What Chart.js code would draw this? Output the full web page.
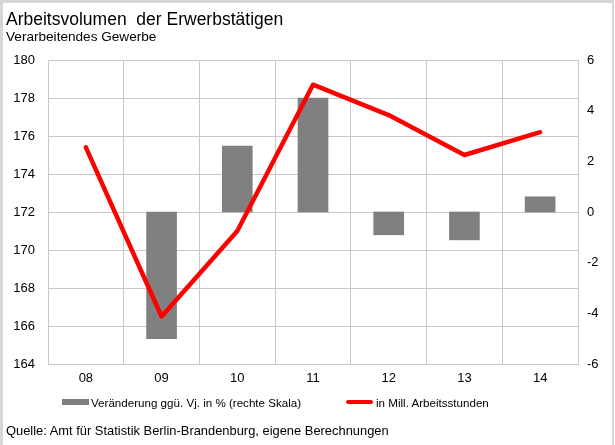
<!DOCTYPE html>
<html lang="de">
<head>
<meta charset="utf-8">
<title>Arbeitsvolumen der Erwerbstätigen</title>
<script src="https://cdn.jsdelivr.net/npm/chart.js@4/dist/chart.umd.min.js"></script>
<style>
  html, body { margin: 0; padding: 0; background: #fff; }
  #wrap {
    position: relative; width: 615px; height: 445px; overflow: hidden;
    font-family: "Liberation Sans", Arial, sans-serif; color: #000;
  }
  #frame {
    position: absolute; left: 0; top: 0; width: 614px; height: 445px;
    border-top: 3px solid #d6d6d6; border-left: 3px solid #d6d6d6; border-right: 2px solid #d6d6d6;
    box-sizing: border-box; pointer-events: none;
  }
  canvas#chart { position: absolute; left: 0; top: 0; }
  .txt { position: absolute; white-space: pre; line-height: 1; }
  #title { left: 6px; top: 11px; font-size: 17.5px; }
  #subtitle { left: 6px; top: 30px; font-size: 13.6px; }
  #source { left: 6px; top: 425px; font-size: 12.9px; }
  .legend { top: 397px; font-size: 11.6px; }
  .swatch { position: absolute; }
</style>
</head>
<body>
<div id="wrap">
  <canvas id="chart" width="615" height="445"></canvas>
  <div class="txt" id="title">Arbeitsvolumen  der Erwerbstätigen</div>
  <div class="txt" id="subtitle">Verarbeitendes Gewerbe</div>
  <div class="swatch" style="left:62px;top:399px;width:27px;height:6px;background:#808080"></div>
  <div class="txt legend" style="left:91px">Veränderung ggü. Vj. in % (rechte Skala)</div>
  <div class="swatch" style="left:346px;top:400px;width:27px;height:4px;background:#ff0000;border-radius:2px"></div>
  <div class="txt legend" style="left:376px">in Mill. Arbeitsstunden</div>
  <div class="txt" id="source">Quelle: Amt für Statistik Berlin-Brandenburg, eigene Berechnungen</div>
  <div id="frame"></div>
</div>
<script>
// Jahre (2008–2014)
const years = ['08', '09', '10', '11', '12', '13', '14'];
// Arbeitsvolumen in Mill. Arbeitsstunden (linke Skala)
const hours = [175.4, 166.5, 171.0, 178.7, 177.1, 175.0, 176.2];
// Veränderung gegenüber Vorjahr in % (rechte Skala)
const changePct = [null, -5.0, 2.6, 4.5, -0.9, -1.1, 0.6];
// Achsenbeschriftungen
const leftTicks = [164, 166, 168, 170, 172, 174, 176, 178, 180];
const rightTicks = [-6, -4, -2, 0, 2, 4, 6];

const gridColor = '#c8c8c8';
const tickFont = { family: '"Liberation Sans", Arial, sans-serif', size: 13 };

new Chart(document.getElementById('chart'), {
  data: {
    labels: years,
    datasets: [
      {
        type: 'line',
        label: 'in Mill. Arbeitsstunden',
        data: hours,
        yAxisID: 'y',
        borderColor: '#ff0000',
        backgroundColor: '#ff0000',
        borderWidth: 4.5,
        pointRadius: 0,
        tension: 0,
        borderCapStyle: 'round',
        borderJoinStyle: 'round',
        order: 0
      },
      {
        type: 'bar',
        label: 'Veränderung ggü. Vj. in % (rechte Skala)',
        data: changePct,
        yAxisID: 'y2',
        backgroundColor: '#808080',
        borderWidth: 0,
        barThickness: 30,
        order: 1
      }
    ]
  },
  options: {
    responsive: false,
    animation: false,
    layout: { padding: { left: 0, right: 0, top: 60, bottom: 0 } },
    plugins: { legend: { display: false }, title: { display: false }, tooltip: { enabled: false } },
    scales: {
      x: {
        type: 'category',
        offset: true,
        grid: { display: true, offset: true, color: gridColor, lineWidth: 1, drawTicks: false },
        border: { display: true, color: gridColor },
        ticks: { font: tickFont, color: '#000', padding: 7 },
        afterFit: (s) => { s.height = 81; }
      },
      y: {
        position: 'left',
        min: 164, max: 180,
        afterBuildTicks: (s) => { s.ticks = leftTicks.map(v => ({ value: v })); },
        grid: { color: gridColor, lineWidth: 1, drawTicks: false },
        border: { display: true, color: gridColor },
        ticks: { font: tickFont, color: '#000', padding: 13 },
        afterFit: (s) => { s.width = 48; }
      },
      y2: {
        position: 'right',
        min: -6, max: 6,
        afterBuildTicks: (s) => { s.ticks = rightTicks.map(v => ({ value: v })); },
        grid: { display: false, drawTicks: false },
        border: { display: true, color: gridColor },
        ticks: { font: tickFont, color: '#000', padding: 9 },
        afterFit: (s) => { s.width = 37; }
      }
    }
  }
});
</script>
</body>
</html>
